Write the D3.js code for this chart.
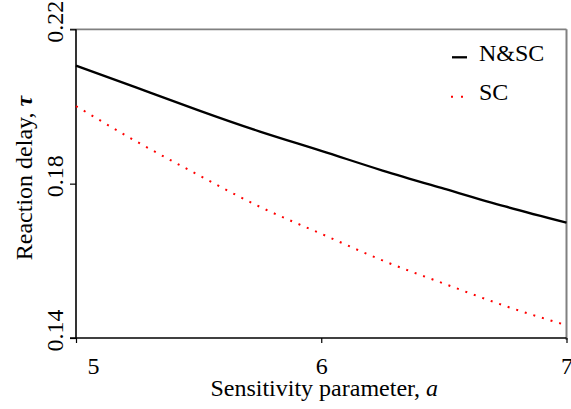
<!DOCTYPE html>
<html>
<head>
<meta charset="utf-8">
<script src="https://cdn.jsdelivr.net/npm/d3@7/dist/d3.min.js"></script>
<style>
  body { margin: 0; background: #fff; }
  svg text, svg tspan { font-family: "Liberation Serif", "Times New Roman", "DejaVu Serif", serif !important; font-size: 24px; fill: #000; }
</style>
</head>
<body>
<svg id="chart" width="571" height="409"></svg>
<script>
// sensitivity parameter a
const aValues = [5, 5.25, 5.5, 5.75, 6, 6.25, 6.5, 6.75, 7];
// reaction delay tau, N&SC
const nscDelay = [0.2106, 0.2048, 0.1990, 0.1935, 0.1885, 0.1834, 0.1787, 0.1741, 0.1699];
// reaction delay tau, SC
const scDelay = [0.2001, 0.1908, 0.1822, 0.1740, 0.1670, 0.1601, 0.1541, 0.1483, 0.1433];
const xTicks = [5, 6, 7];
const yTicks = [0.14, 0.18, 0.22];
const seriesNames = ['N&SC', 'SC'];

const svg = d3.select('#chart');
const margin = {top: 29.3, right: 4.5, bottom: 71, left: 76};
const W = 571, H = 409;

const x = d3.scaleLinear().domain([5, 7]).range([margin.left, W - margin.right]);
const y = d3.scaleLinear().domain([0.14, 0.22]).range([H - margin.bottom, margin.top]);

const x0 = x(5), x1 = x(7), y0 = y(0.14), y1 = y(0.22);

// frame: top and right grey, left and bottom black
svg.append('line').attr('x1', x0 - 6).attr('x2', x1).attr('y1', y1).attr('y2', y1)
  .attr('stroke', '#808080').attr('stroke-width', 1.7);
svg.append('line').attr('x1', x1).attr('x2', x1).attr('y1', y1).attr('y2', y0 + 2)
  .attr('stroke', '#808080').attr('stroke-width', 2);

// y axis
const gy = svg.append('g').attr('transform', `translate(${x0},0)`)
  .call(d3.axisLeft(y).tickValues(yTicks).tickSize(6).tickFormat(d3.format('.2f')));
gy.attr('font-family', null).attr('font-size', null);
gy.select('.domain').remove();
gy.selectAll('.tick line').attr('stroke', '#000').attr('stroke-width', 1.2);
gy.selectAll('.tick text')
  .attr('x', 0).attr('dy', 0)
  .attr('transform', 'translate(-13,-8) rotate(-90)')
  .attr('text-anchor', 'middle');

// x axis
const gx = svg.append('g').attr('transform', `translate(0,${y0})`)
  .call(d3.axisBottom(x).tickValues(xTicks).tickSize(5).tickFormat(d3.format('d')));
gx.attr('font-family', null).attr('font-size', null);
gx.select('.domain').remove();
gx.selectAll('.tick line').attr('stroke', '#000').attr('stroke-width', 1.2);
gx.selectAll('.tick text')
  .attr('y', 36).attr('dy', 0)
  .attr('dx', (d, i) => i === 0 ? 17 : 0);

svg.append('line').attr('x1', x0).attr('x2', x0).attr('y1', y1).attr('y2', y0)
  .attr('stroke', '#000').attr('stroke-width', 1.6);
svg.append('line').attr('x1', x0 - 6).attr('x2', x1).attr('y1', y0).attr('y2', y0)
  .attr('stroke', '#000').attr('stroke-width', 1.6);

// titles
svg.append('text')
  .attr('x', (x0 + x1) / 2 + 3).attr('y', 396)
  .attr('text-anchor', 'middle')
  .html('Sensitivity parameter, <tspan font-style="italic">a</tspan>');

svg.append('text')
  .attr('transform', `translate(32,178) rotate(-90)`)
  .attr('text-anchor', 'middle')
  .html('Reaction delay, <tspan font-style="italic" font-weight="bold">τ</tspan>');

// series
const line = d3.line().curve(d3.curveNatural)
  .x((d, i) => x(aValues[i])).y(d => y(d));

svg.append('path').datum(nscDelay)
  .attr('d', line)
  .attr('fill', 'none').attr('stroke', '#000').attr('stroke-width', 2.3);

svg.append('path').datum(scDelay)
  .attr('d', line)
  .attr('fill', 'none').attr('stroke', '#ff0000').attr('stroke-width', 2)
  .attr('stroke-dasharray', '2,7');

// legend
const legend = svg.append('g');
legend.append('line').attr('x1', 452).attr('x2', 467).attr('y1', 57.3).attr('y2', 57.3)
  .attr('stroke', '#000').attr('stroke-width', 2.3);
legend.append('line').attr('x1', 451).attr('x2', 464).attr('y1', 96.7).attr('y2', 96.7)
  .attr('stroke', '#ff0000').attr('stroke-width', 2).attr('stroke-dasharray', '2,8');
legend.append('text').attr('x', 479).attr('y', 61).text(seriesNames[0]);
legend.append('text').attr('x', 479).attr('y', 100).text(seriesNames[1]);
</script>
</body>
</html>
